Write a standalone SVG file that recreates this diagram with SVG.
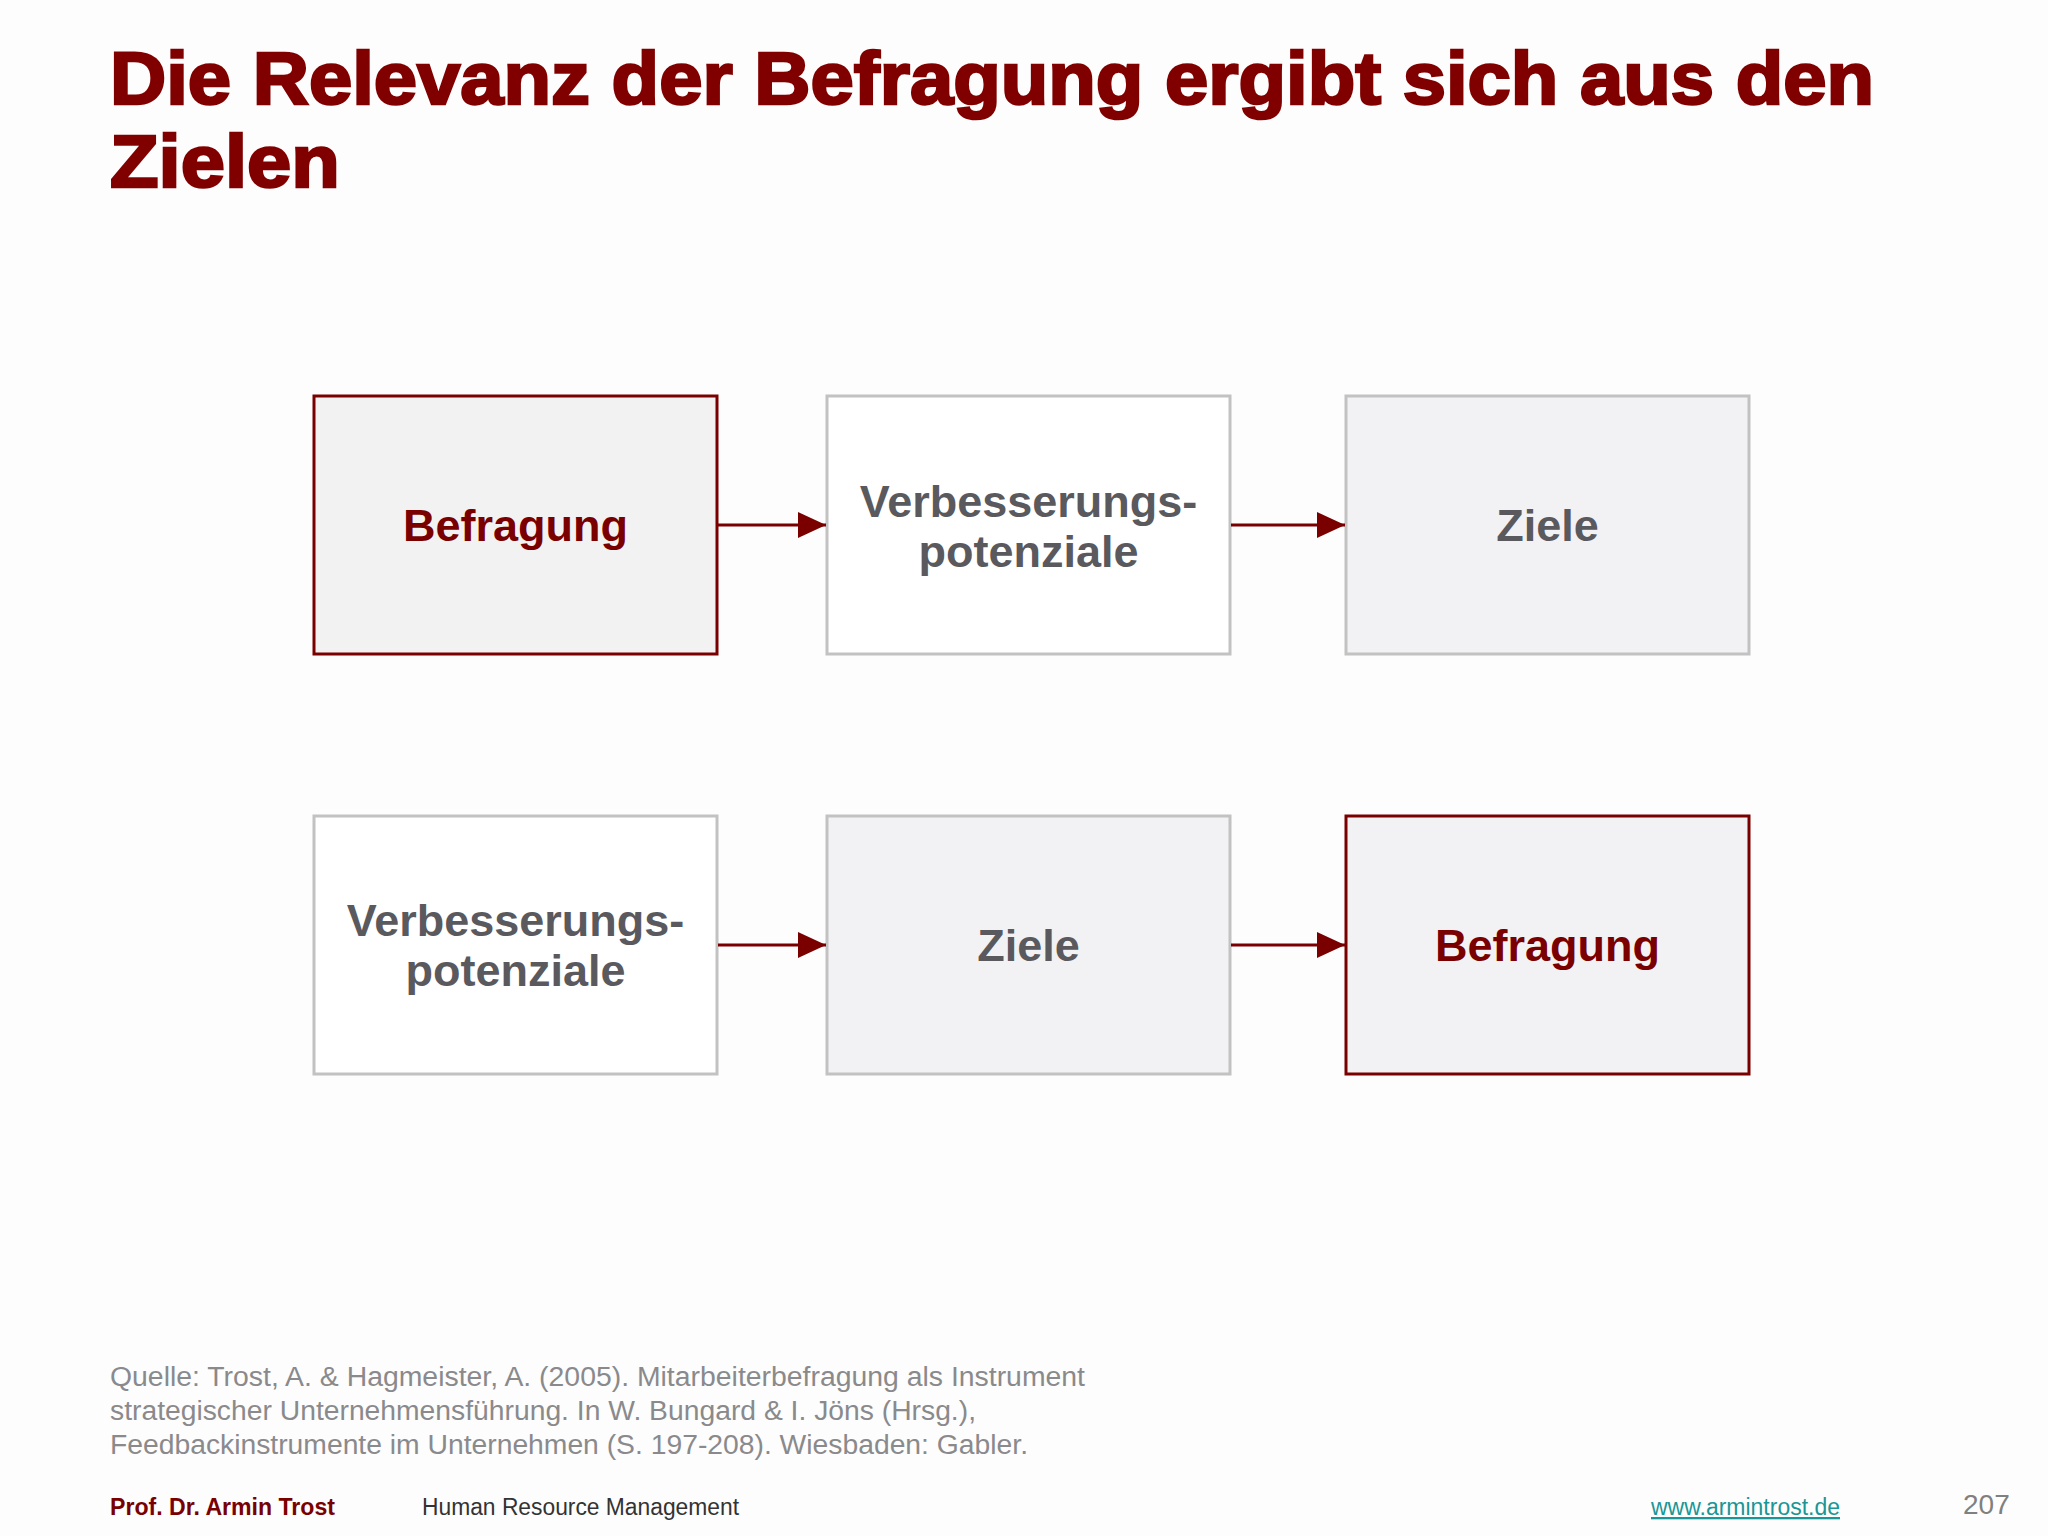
<svg xmlns="http://www.w3.org/2000/svg" width="2048" height="1536" viewBox="0 0 2048 1536">
<defs>
<style>
.title{font-family:"Liberation Sans",Arial,sans-serif;font-weight:bold;font-size:74px;fill:#800000;stroke:#800000;stroke-width:2.5px}
.red{stroke:#7a0000;stroke-width:3;}
.grey{stroke:#c2c2c2;stroke-width:3;}
.lbl{font-family:"Liberation Sans",Arial,sans-serif;font-weight:bold;font-size:45px;text-anchor:middle}
.lr{fill:#7a0000}
.lg{fill:#5a595e}
.src{font-family:"Liberation Sans",Arial,sans-serif;font-size:27px;fill:#8a8a8c}
.conn{stroke:#7a0000;stroke-width:3;fill:none}
</style>
<marker id="ah" markerUnits="userSpaceOnUse" markerWidth="30" markerHeight="28" refX="28" refY="13" orient="auto">
<path d="M0,0 L28,13 L0,26 Z" fill="#7a0000"/>
</marker>
</defs>
<rect x="0" y="0" width="2048" height="1536" fill="#fdfdfd"/>
<g id="title">
<text class="title" x="110" y="104" textLength="1764" lengthAdjust="spacingAndGlyphs">Die Relevanz der Befragung ergibt sich aus den</text>
<text class="title" x="110" y="187" textLength="230" lengthAdjust="spacingAndGlyphs">Zielen</text>
</g>
<g id="n1">
<rect x="314" y="396" width="403" height="258" fill="#f2f2f2" class="red"/>
<text class="lbl lr" x="515.5" y="541">Befragung</text>
</g>
<g id="n2">
<rect x="827" y="396" width="403" height="258" fill="#ffffff" class="grey"/>
<text class="lbl lg" x="1028.5" y="517">Verbesserungs-</text>
<text class="lbl lg" x="1028.5" y="567">potenziale</text>
</g>
<g id="n3">
<rect x="1346" y="396" width="403" height="258" fill="#f2f2f4" class="grey"/>
<text class="lbl lg" x="1547.5" y="541">Ziele</text>
</g>
<g id="n4">
<rect x="314" y="816" width="403" height="258" fill="#ffffff" class="grey"/>
<text class="lbl lg" x="515.5" y="936">Verbesserungs-</text>
<text class="lbl lg" x="515.5" y="986">potenziale</text>
</g>
<g id="n5">
<rect x="827" y="816" width="403" height="258" fill="#f2f2f4" class="grey"/>
<text class="lbl lg" x="1028.5" y="961">Ziele</text>
</g>
<g id="n6">
<rect x="1346" y="816" width="403" height="258" fill="#f2f2f4" class="red"/>
<text class="lbl lr" x="1547.5" y="961">Befragung</text>
</g>
<g id="connectors">
<line class="conn" x1="718" y1="525" x2="826" y2="525" marker-end="url(#ah)"/>
<line class="conn" x1="1231" y1="525" x2="1345" y2="525" marker-end="url(#ah)"/>
<line class="conn" x1="718" y1="945" x2="826" y2="945" marker-end="url(#ah)"/>
<line class="conn" x1="1231" y1="945" x2="1345" y2="945" marker-end="url(#ah)"/>
</g>
<g id="source">
<text class="src" x="110" y="1386" textLength="975" lengthAdjust="spacingAndGlyphs">Quelle: Trost, A. &amp; Hagmeister, A. (2005). Mitarbeiterbefragung als Instrument</text>
<text class="src" x="110" y="1420" textLength="866" lengthAdjust="spacingAndGlyphs">strategischer Unternehmensführung. In W. Bungard &amp; I. Jöns (Hrsg.),</text>
<text class="src" x="110" y="1454" textLength="918" lengthAdjust="spacingAndGlyphs">Feedbackinstrumente im Unternehmen (S. 197-208). Wiesbaden: Gabler.</text>
</g>
<g id="footer">
<text x="110" y="1515" font-family="Liberation Sans, Arial, sans-serif" font-weight="bold" font-size="23" fill="#7a0000" textLength="225" lengthAdjust="spacingAndGlyphs">Prof. Dr. Armin Trost</text>
<text x="422" y="1515" font-family="Liberation Sans, Arial, sans-serif" font-size="23" fill="#333333" textLength="317" lengthAdjust="spacingAndGlyphs">Human Resource Management</text>
<text x="1651" y="1515" font-family="Liberation Sans, Arial, sans-serif" font-size="23" fill="#1a9696" text-decoration="underline" textLength="189" lengthAdjust="spacingAndGlyphs">www.armintrost.de</text>
<text x="1963" y="1514" font-family="Liberation Sans, Arial, sans-serif" font-size="28" fill="#808080">207</text>
</g>
</svg>
